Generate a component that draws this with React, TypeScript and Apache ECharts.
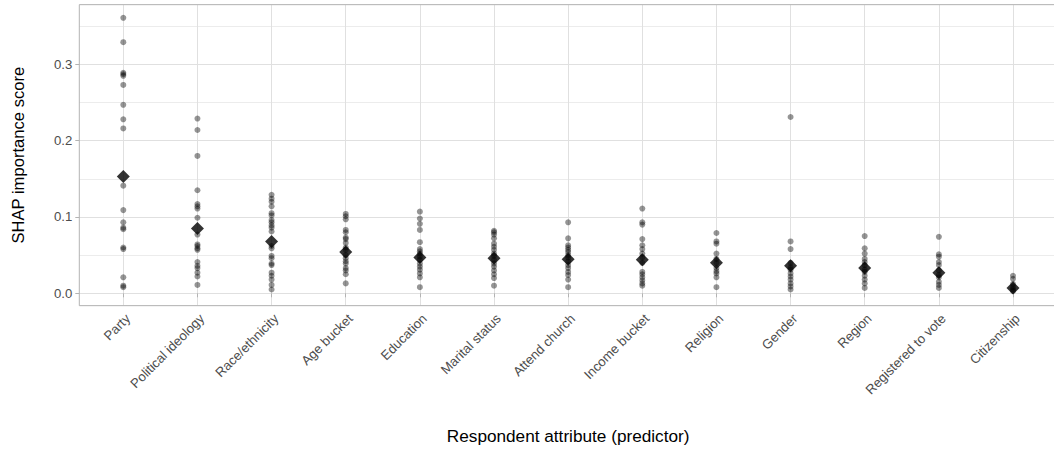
import React, { useEffect, useRef } from "react";
import * as echarts from "echarts";

const categories = [
  "Party",
  "Political ideology",
  "Race/ethnicity",
  "Age bucket",
  "Education",
  "Marital status",
  "Attend church",
  "Income bucket",
  "Religion",
  "Gender",
  "Region",
  "Registered to vote",
  "Citizenship",
];

const party = [0.361, 0.329, 0.289, 0.287, 0.285, 0.273, 0.247, 0.228, 0.216, 0.141, 0.109, 0.093, 0.086, 0.084, 0.06, 0.058, 0.021, 0.01, 0.008];
const politicalIdeology = [0.229, 0.214, 0.18, 0.135, 0.117, 0.114, 0.111, 0.099, 0.077, 0.064, 0.062, 0.059, 0.057, 0.041, 0.036, 0.033, 0.027, 0.022, 0.011];
const raceEthnicity = [0.129, 0.124, 0.12, 0.114, 0.105, 0.102, 0.096, 0.093, 0.089, 0.086, 0.081, 0.062, 0.059, 0.049, 0.046, 0.039, 0.037, 0.027, 0.023, 0.018, 0.011, 0.005];
const ageBucket = [0.104, 0.101, 0.097, 0.083, 0.08, 0.073, 0.071, 0.066, 0.06, 0.057, 0.05, 0.046, 0.042, 0.039, 0.033, 0.03, 0.025, 0.013];
const education = [0.107, 0.098, 0.091, 0.083, 0.067, 0.058, 0.055, 0.052, 0.048, 0.044, 0.039, 0.035, 0.031, 0.026, 0.021, 0.008];
const maritalStatus = [0.082, 0.08, 0.077, 0.072, 0.065, 0.061, 0.057, 0.052, 0.049, 0.044, 0.039, 0.035, 0.03, 0.025, 0.02, 0.01];
const attendChurch = [0.093, 0.072, 0.063, 0.06, 0.057, 0.054, 0.05, 0.047, 0.042, 0.037, 0.033, 0.028, 0.024, 0.018, 0.008];
const incomeBucket = [0.111, 0.093, 0.09, 0.071, 0.063, 0.058, 0.052, 0.047, 0.04, 0.028, 0.025, 0.021, 0.017, 0.013, 0.01];
const religion = [0.079, 0.068, 0.065, 0.052, 0.045, 0.04, 0.033, 0.029, 0.026, 0.021, 0.008];
const gender = [0.231, 0.068, 0.058, 0.04, 0.034, 0.031, 0.026, 0.022, 0.018, 0.013, 0.009, 0.005];
const region = [0.075, 0.059, 0.052, 0.045, 0.041, 0.037, 0.031, 0.028, 0.023, 0.018, 0.013, 0.007];
const registeredToVote = [0.074, 0.051, 0.048, 0.041, 0.037, 0.03, 0.024, 0.021, 0.015, 0.011, 0.007];
const citizenship = [0.023, 0.019, 0.012, 0.008, 0.005, 0.003];

const meanScores = [0.153, 0.085, 0.068, 0.054, 0.047, 0.046, 0.0445, 0.044, 0.04, 0.036, 0.033, 0.027, 0.007];

const yTicks = [0, 0.1, 0.2, 0.3];

const groups = [
  party,
  politicalIdeology,
  raceEthnicity,
  ageBucket,
  education,
  maritalStatus,
  attendChurch,
  incomeBucket,
  religion,
  gender,
  region,
  registeredToVote,
  citizenship,
];

const FONT = "Liberation Sans";

export default function App() {
  const ref = useRef<HTMLDivElement>(null);

  useEffect(() => {
    document.body.style.margin = "0";
    if (!ref.current) return;
    const chart = echarts.init(ref.current, undefined, { renderer: "svg" });

    const points: number[][] = [];
    groups.forEach((vals, i) => vals.forEach((v) => points.push([i, v])));
    const means = meanScores.map((v, i) => [i, v]);

    const yMin = -0.0162;
    const yMax = 0.3782;
    const panelLeft = 79.3;
    const panelTop = 4.67;
    const panelW = 978;
    const panelH = 301;
    const catLeft = 123.3;
    const catW = 889.7;
    const zeroY = 293.3;
    const topTickY = 64.33;

    const option: any = {
      animation: false,
      backgroundColor: "#ffffff",
      textStyle: { fontFamily: FONT },
      grid: [
        { left: panelLeft, top: panelTop, width: panelW, height: panelH },
        { left: catLeft, top: panelTop, width: catW, height: panelH },
        { left: panelLeft, top: topTickY, width: panelW, height: zeroY - topTickY },
      ],
      xAxis: [
        {
          gridIndex: 0,
          type: "value",
          min: 0,
          max: 1,
          axisLine: { show: false },
          axisTick: { show: false },
          axisLabel: { show: false },
          splitLine: { show: false },
        },
        {
          gridIndex: 1,
          type: "value",
          min: 0,
          max: categories.length - 1,
          interval: 1,
          axisLine: { show: false },
          axisTick: { show: true, length: 4, lineStyle: { color: "#b3b3b3", width: 1 } },
          axisLabel: {
            show: true,
            rotate: 45,
            margin: 6,
            align: "right",
            verticalAlign: "top",
            color: "#4d4d4d",
            fontSize: 13.2,
            fontFamily: FONT,
            formatter: (v: number) => categories[Math.round(v)] ?? "",
          },
          splitLine: { show: true, lineStyle: { color: "#e0e0e0", width: 1 } },
          name: "Respondent attribute (predictor)",
          nameLocation: "middle",
          nameGap: 122,
          nameTextStyle: { color: "#000000", fontSize: 17.2, fontFamily: FONT },
        },
        {
          gridIndex: 2,
          type: "value",
          show: false,
          min: 0,
          max: 1,
        },
      ],
      yAxis: [
        {
          gridIndex: 0,
          type: "value",
          min: yMin,
          max: yMax,
          minInterval: 0.05,
          maxInterval: 0.05,
          axisLine: { show: false },
          axisTick: { show: false },
          axisLabel: { show: false },
          splitLine: { show: true, lineStyle: { color: "#ececec", width: 1 } },
          name: "SHAP importance score",
          nameLocation: "middle",
          nameGap: 52,
          nameRotate: 90,
          nameTextStyle: { color: "#000000", fontSize: 16.6, fontFamily: FONT },
        },
        {
          gridIndex: 1,
          type: "value",
          min: yMin,
          max: yMax,
          show: false,
        },
        {
          gridIndex: 2,
          type: "value",
          min: yTicks[0],
          max: yTicks[yTicks.length - 1],
          interval: 0.1,
          axisLine: { show: false },
          axisTick: { show: true, length: 4, lineStyle: { color: "#b3b3b3", width: 1 } },
          axisLabel: {
            show: true,
            margin: 7,
            color: "#4d4d4d",
            fontSize: 13.2,
            fontFamily: FONT,
            formatter: (v: number) => v.toFixed(1),
          },
          splitLine: { show: true, lineStyle: { color: "#e0e0e0", width: 1 } },
        },
      ],
      graphic: [
        {
          type: "rect",
          z: 100,
          silent: true,
          shape: { x: panelLeft, y: panelTop, width: panelW, height: panelH },
          style: { fill: "none", stroke: "#b3b3b3", lineWidth: 1 },
        },
      ],
      series: [
        {
          type: "scatter",
          xAxisIndex: 1,
          yAxisIndex: 1,
          data: points,
          symbol: "circle",
          symbolSize: 6,
          itemStyle: { color: "rgba(0,0,0,0.52)" },
          clip: false,
          z: 3,
        },
        {
          type: "scatter",
          xAxisIndex: 1,
          yAxisIndex: 1,
          data: means,
          symbol: "diamond",
          symbolSize: [13, 13],
          itemStyle: { color: "#000000" },
          clip: false,
          z: 4,
        },
      ],
    };

    chart.setOption(option);
    return () => chart.dispose();
  }, []);

  return <div ref={ref} style={{ width: 1054, height: 455 }} />;
}
